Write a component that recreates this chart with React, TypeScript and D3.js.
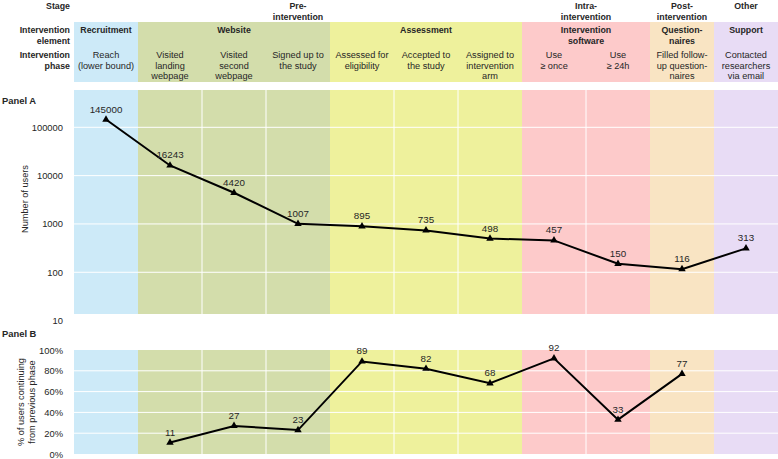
import React from 'react';
import * as d3 from 'd3';

// Funnel columns (intervention phases) and the element each belongs to
const phases = [
  'Reach\n(lower bound)',
  'Visited\nlanding\nwebpage',
  'Visited\nsecond\nwebpage',
  'Signed up to\nthe study',
  'Assessed for\neligibility',
  'Accepted to\nthe study',
  'Assigned to\nintervention\narm',
  'Use\n≥ once',
  'Use\n≥ 24h',
  'Filled follow-\nup question-\nnaires',
  'Contacted\nresearchers\nvia email',
];
const phaseElement = [0, 1, 1, 1, 2, 2, 2, 3, 3, 4, 5];
const elements = ['Recruitment', 'Website', 'Assessment', 'Intervention\nsoftware', 'Question-\nnaires', 'Support'];
const stages = ['Pre-\nintervention', 'Intra-\nintervention', 'Post-\nintervention', 'Other'];
const stageElements = [[0, 1, 2], [3], [4], [5]];

const users = [145000, 16243, 4420, 1007, 895, 735, 498, 457, 150, 116, 313];
const continuing: (number | null)[] = [null, 11, 27, 23, 89, 82, 68, 92, 33, 77, null];

const logTicks = [10, 100, 1000, 10000, 100000];
const pctTicks = [0, 20, 40, 60, 80, 100];

const elementColors = ['#cdeaf8', '#d3ddab', '#eef19c', '#fdcaca', '#f9e4c3', '#e8dcf5'];

const W = 778;
const H = 459;
const FONT = 'Liberation Sans, Arial, sans-serif';
const TEXT = '#262626';

const x = d3.scaleBand<number>().domain(d3.range(phases.length)).range([74, 778]).padding(0);
const yA = d3.scaleLog().domain([10, 100000]).range([320.6, 127.3]);
const yB = d3.scaleLinear().domain([0, 100]).range([454, 350]);

const headTop = 22, headBottom = 82;
const aTop = 90, aBottom = 314;

const Lines: React.FC<{ text: string; x: number; y: number; anchor?: string; bold?: boolean; lh?: number; size?: number }> = ({ text, x, y, anchor = 'middle', bold, lh = 10.6, size }) => (
  <text x={x} y={y} textAnchor={anchor} fontWeight={bold ? 'bold' : 'normal'} fontSize={size ?? (bold ? 8.8 : 9.2)} fill={TEXT}>
    {text.split('\n').map((t, i) => (
      <tspan key={i} x={x} dy={i === 0 ? 0 : lh}>{t}</tspan>
    ))}
  </text>
);

const tri = d3.symbol().type(d3.symbolTriangle).size(24);

export default function App() {
  const bw = x.bandwidth();
  const cx = (i: number) => (x(i) as number) + bw / 2;

  // column spans of each element
  const spans = elements.map((_, e) => {
    const idx = phaseElement.map((g, i) => (g === e ? i : -1)).filter(i => i >= 0);
    return { x0: x(idx[0]) as number, x1: (x(idx[idx.length - 1]) as number) + bw, idx };
  });

  const lineA = d3.line<number>().x((_, i) => cx(i)).y(d => yA(d));
  const bPts = continuing.map((v, i) => ({ v, i })).filter(d => d.v !== null) as { v: number; i: number }[];
  const lineB = d3.line<{ v: number; i: number }>().x(d => cx(d.i)).y(d => yB(d.v));

  const panelBg = (top: number, bottom: number, grid: number[]) => (
    <g>
      {spans.map((s, e) => (
        <rect key={e} x={s.x0} y={top} width={s.x1 - s.x0} height={bottom - top} fill={elementColors[e]} />
      ))}
      {grid.map(g => (
        <line key={g} x1={74} x2={W} y1={g} y2={g} stroke="#fff" strokeWidth={1} />
      ))}
      {spans.map((s, e) =>
        s.idx.slice(1).map(i => (
          <line key={`${e}-${i}`} x1={x(i) as number} x2={x(i) as number} y1={top} y2={bottom} stroke="#fff" strokeWidth={1} />
        ))
      )}
    </g>
  );

  return (
    <svg width={W} height={H} style={{ position: 'absolute', left: 0, top: 0, background: '#fff' }} fontFamily={FONT} fontSize={9.4}>
      {/* header row labels */}
      <Lines text="Stage" x={70} y={9} anchor="end" bold />
      <Lines text={'Intervention\nelement'} x={70} y={33} anchor="end" bold />
      <Lines text={'Intervention\nphase'} x={70} y={58} anchor="end" bold />

      {stages.map((s, k) => {
        const els = stageElements[k];
        const x0 = spans[els[0]].x0;
        const x1 = spans[els[els.length - 1]].x1;
        return <Lines key={s} text={s} x={(x0 + x1) / 2} y={9} bold />;
      })}

      {spans.map((s, e) => (
        <g key={e}>
          <rect x={s.x0} y={headTop} width={s.x1 - s.x0} height={headBottom - headTop} fill={elementColors[e]} />
          <Lines text={elements[e]} x={(s.x0 + s.x1) / 2} y={33} bold />
        </g>
      ))}
      {phases.map((p, i) => (
        <Lines key={i} text={p} x={cx(i)} y={58} />
      ))}

      {/* Panel A */}
      <Lines text="Panel A" x={2} y={104} anchor="start" bold size={9.4} />
      {panelBg(aTop, aBottom, logTicks.slice(1).map(t => yA(t)))}
      {logTicks.map(t => (
        <text key={t} x={63} y={yA(t) + 3.5} textAnchor="end" fill={TEXT}>{t}</text>
      ))}
      <text transform={`translate(28,${(aTop + aBottom) / 2 - 3}) rotate(-90)`} textAnchor="middle" fill={TEXT} fontSize={9.2}>Number of users</text>
      <path d={lineA(users) || ''} fill="none" stroke="#000" strokeWidth={2} />
      {users.map((v, i) => (
        <g key={i}>
          <path d={tri() || ''} transform={`translate(${cx(i)},${yA(v)})`} fill="#000" />
          <text x={cx(i)} y={yA(v) - 7} textAnchor="middle" fill={TEXT} fontSize={9.8}>{v}</text>
        </g>
      ))}

      {/* Panel B */}
      <Lines text="Panel B" x={2} y={337} anchor="start" bold size={9.4} />
      {panelBg(yB(100), yB(0), pctTicks.slice(1, -1).map(t => yB(t)))}
      {pctTicks.map(t => (
        <text key={t} x={63} y={yB(t) + 3.5} textAnchor="end" fill={TEXT}>{t}%</text>
      ))}
      <text transform={`translate(23.5,${(yB(0) + yB(100)) / 2}) rotate(-90)`} textAnchor="middle" fill={TEXT} fontSize={9.2}>
        <tspan x={0} dy={0}>% of users continuing</tspan>
        <tspan x={0} dy={11}>from previous phase</tspan>
      </text>
      <path d={lineB(bPts) || ''} fill="none" stroke="#000" strokeWidth={2} />
      {bPts.map(d => (
        <g key={d.i}>
          <path d={tri() || ''} transform={`translate(${cx(d.i)},${yB(d.v)})`} fill="#000" />
          <text x={cx(d.i)} y={yB(d.v) - 7} textAnchor="middle" fill={TEXT} fontSize={9.8}>{d.v}</text>
        </g>
      ))}
    </svg>
  );
}
